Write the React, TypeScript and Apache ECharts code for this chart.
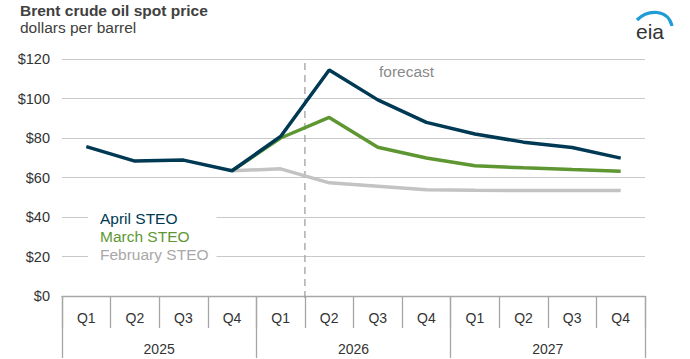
import React, { useEffect, useRef } from "react";
import * as echarts from "echarts";

const quarters = ["Q1", "Q2", "Q3", "Q4", "Q1", "Q2", "Q3", "Q4", "Q1", "Q2", "Q3", "Q4"];
const years = ["2025", "2026", "2027"];
const aprilSTEO = [75.6, 68.3, 68.8, 63.4, 80.8, 114.4, 99.3, 87.9, 82.0, 77.9, 75.2, 69.8];
const marchSTEO = [null, null, null, 63.4, 80.0, 90.4, 75.3, 69.9, 66.0, 64.9, 64.0, 63.2];
const februarySTEO = [null, null, null, 63.4, 64.4, 57.3, 55.6, 53.8, 53.5, 53.4, 53.4, 53.4];
const yTicks = { min: 0, max: 120, interval: 20 };
const forecastBoundary = 5; // between Q1 2026 and Q2 2026 (category boundary index)

const FONT = "'Liberation Sans', Arial, sans-serif";
const C_APRIL = "#003953";
const C_MARCH = "#5e9732";
const C_FEB = "#c3c3c3";
const GRID_C = "#c9c9c9";
const AXIS_C = "#a6a6a6";
const TEXT_C = "#333333";

export default function App() {
  const ref = useRef<HTMLDivElement>(null);
  useEffect(() => {
    if (!ref.current) return;
    const chart = echarts.init(ref.current, null, { renderer: "svg" });
    chart.setOption({
      animation: false,
      backgroundColor: "#ffffff",
      textStyle: { fontFamily: FONT },
      grid: { left: 62, right: 45, top: 59, bottom: 63, containLabel: false },
      xAxis: [
        {
          type: "category",
          data: quarters,
          position: "bottom",
          offset: 0,
          boundaryGap: true,
          axisLine: { show: true, lineStyle: { color: AXIS_C, width: 1.3 } },
          axisTick: { show: true, length: 32, interval: 0, lineStyle: { color: AXIS_C, width: 1.3 } },
          axisLabel: { interval: 0, margin: 15, fontSize: 14, color: TEXT_C, fontFamily: FONT },
          splitLine: { show: false },
        },
        {
          type: "category",
          data: years,
          position: "bottom",
          offset: 0,
          boundaryGap: true,
          axisLine: { show: false },
          axisTick: { show: true, length: 62, interval: 0, lineStyle: { color: AXIS_C, width: 1.3 } },
          axisLabel: { interval: 0, margin: 46, fontSize: 14, color: TEXT_C, fontFamily: FONT },
          splitLine: { show: false },
        },
        {
          type: "value",
          min: 0,
          max: quarters.length,
          show: false,
        },
      ],
      yAxis: {
        type: "value",
        min: yTicks.min,
        max: yTicks.max,
        interval: yTicks.interval,
        axisLine: { show: false },
        axisTick: { show: false },
        axisLabel: {
          margin: 12,
          fontSize: 14.5,
          color: TEXT_C,
          fontFamily: FONT,
          formatter: (v: number) => "$" + v,
        },
        splitLine: { show: true, lineStyle: { color: GRID_C, width: 1 } },
      },
      legend: {
        orient: "vertical",
        left: 88,
        top: 207.5,
        padding: [2, 8, 2, 7],
        backgroundColor: "#ffffff",
        icon: "none",
        itemWidth: 0,
        itemHeight: 14,
        itemGap: 0,
        selectedMode: false,
        textStyle: { fontSize: 15.5, fontFamily: FONT, lineHeight: 17.8 },
        data: [
          { name: "April STEO", textStyle: { color: C_APRIL } },
          { name: "March STEO", textStyle: { color: C_MARCH } },
          { name: "February STEO", textStyle: { color: "#a8a8a8" } },
        ],
        z: 10,
      },
      graphic: [
        {
          type: "text",
          left: 20,
          top: 2,
          style: { text: "Brent crude oil spot price", font: `bold 15.5px ${FONT}`, fill: "#404040" },
        },
        {
          type: "text",
          left: 20,
          top: 19,
          style: { text: "dollars per barrel", font: `15.5px ${FONT}`, fill: "#404040" },
        },
        {
          type: "text",
          left: 379,
          top: 63,
          style: { text: "forecast", font: `15.5px ${FONT}`, fill: "#8a8a8a" },
        },
        {
          type: "bezierCurve",
          shape: { x1: 637, y1: 20, cpx1: 648, cpy1: 9, cpx2: 668, cpy2: 9, x2: 672, y2: 26 },
          style: { stroke: "#1f9bd7", lineWidth: 3.2, fill: "none" },
        },
        {
          type: "text",
          left: 636,
          top: 21,
          style: { text: "eia", font: `21px ${FONT}`, fill: "#333333" },
        },
      ],
      series: [
        {
          name: "February STEO",
          type: "line",
          data: februarySTEO,
          symbol: "none",
          lineStyle: { color: C_FEB, width: 3.5 },
          itemStyle: { color: C_FEB },
          z: 2,
        },
        {
          name: "March STEO",
          type: "line",
          data: marchSTEO,
          symbol: "none",
          lineStyle: { color: C_MARCH, width: 3.5 },
          itemStyle: { color: C_MARCH },
          z: 3,
        },
        {
          name: "April STEO",
          type: "line",
          data: aprilSTEO,
          symbol: "none",
          lineStyle: { color: C_APRIL, width: 3.5 },
          itemStyle: { color: C_APRIL },
          z: 4,
        },
        {
          name: "forecast boundary",
          type: "line",
          xAxisIndex: 2,
          data: [
            [forecastBoundary, -1],
            [forecastBoundary, 119.5],
          ],
          symbol: "none",
          clip: false,
          lineStyle: { color: "#a0a0a0", width: 1.3, type: [7, 5] },
          z: 1,
          silent: true,
        },
      ],
    });
    return () => chart.dispose();
  }, []);
  return <div ref={ref} style={{ width: 690, height: 359, position: "absolute", left: 0, top: 0 }} />;
}
